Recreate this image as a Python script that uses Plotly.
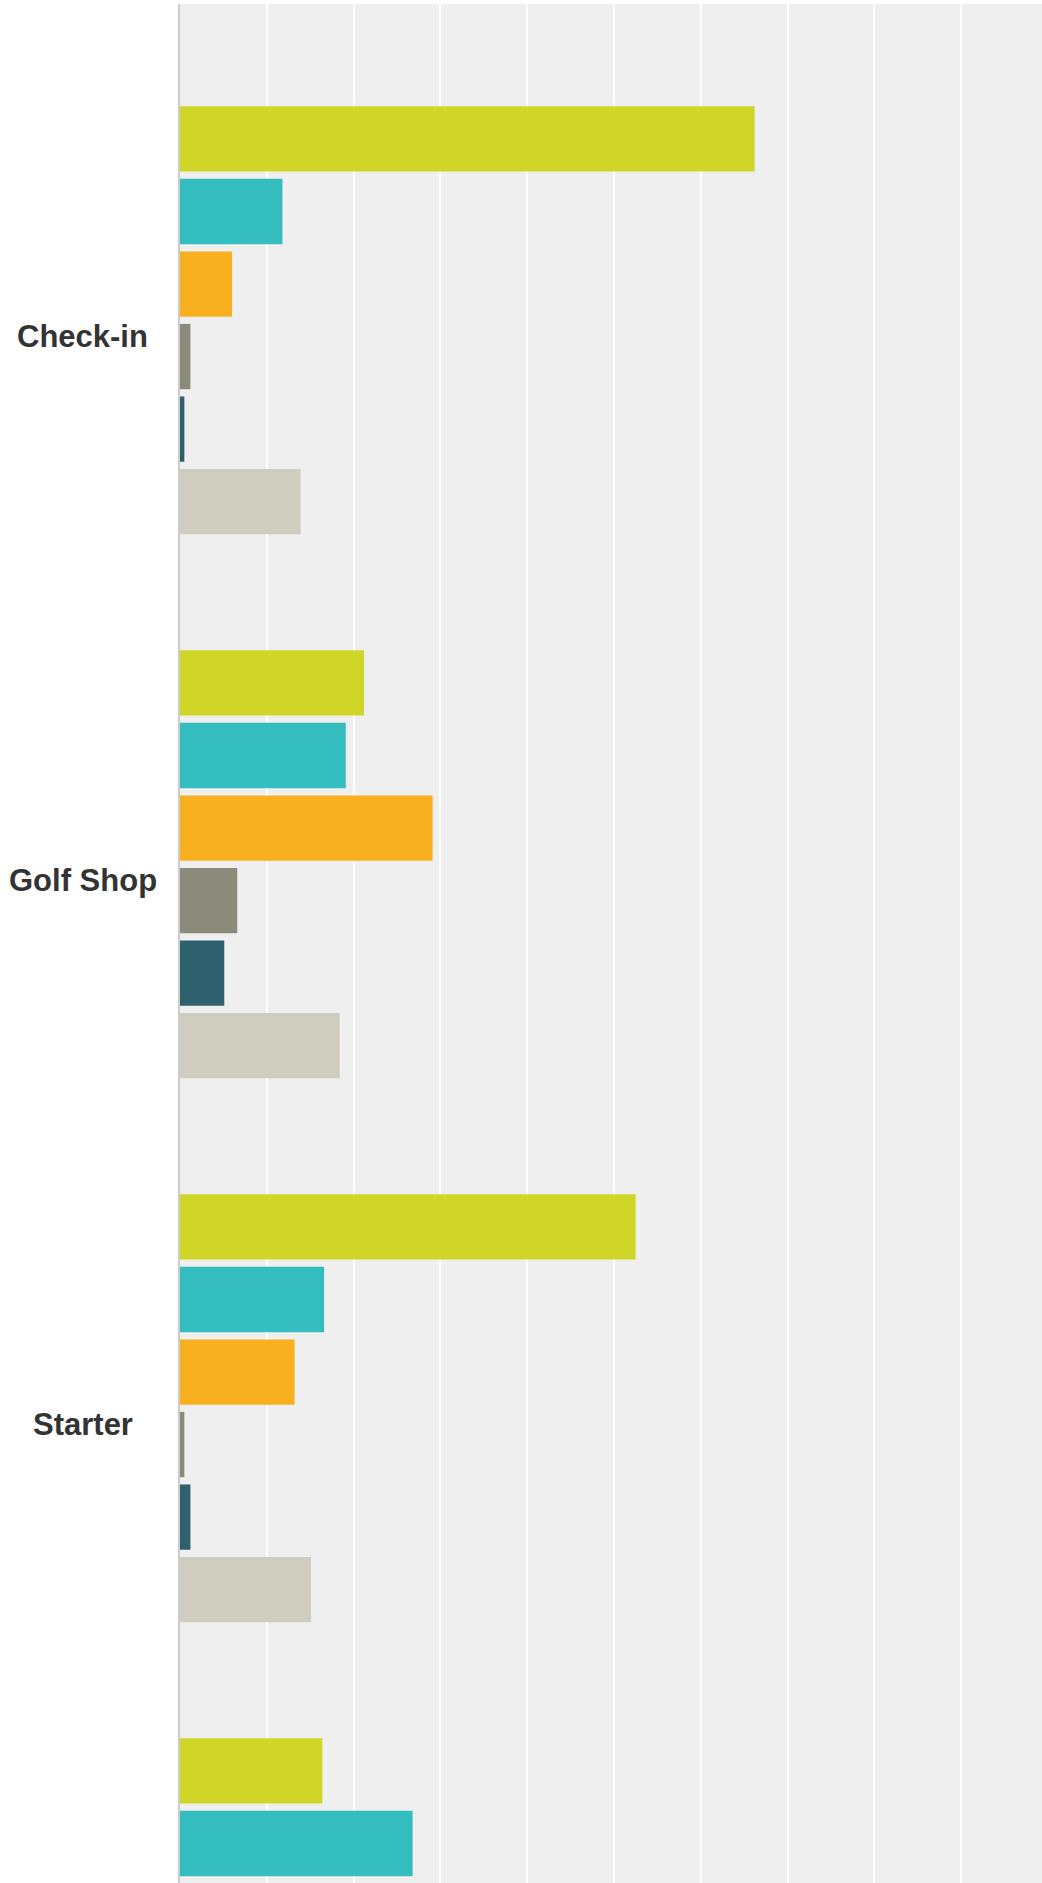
import plotly.graph_objects as go

categories = ["Check-in", "Golf Shop", "Starter", "Food & Beverage"]
series_names = ["Excellent", "Very Good", "Good", "Fair", "Poor", "N/A"]
excellent = [66.2, 21.2, 52.5, 16.4]
very_good = [11.8, 19.1, 16.6, 26.8]
good = [6.0, 29.1, 13.2, None]
fair = [1.2, 6.6, 0.5, None]
poor = [0.5, 5.1, 1.2, None]
not_applicable = [13.9, 18.4, 15.1, None]

series_values = [excellent, very_good, good, fair, poor, not_applicable]
colors = ["#CFD628", "#34BDBF", "#F7AF1F", "#8B8B7B", "#2E606E", "#CFCDBF"]

fig = go.Figure()
for name, vals, col in zip(series_names, series_values, colors):
    fig.add_trace(go.Bar(
        y=categories, x=vals, name=name, orientation="h",
        marker=dict(color=col, line=dict(width=0)),
        hoverinfo="x+name",
    ))

W, H = 1042, 1883
left, top = 180, 4
px_per_unit = 8.68
cat_pitch = 544
cat0_center = 320.3
y_top = -(cat0_center - top) / cat_pitch
y_bottom = y_top + (H - top) / cat_pitch

annotations = []
for i, c in enumerate(categories):
    annotations.append(dict(
        text="<b>%s</b>" % c, xref="paper", yref="y", x=-0.113, y=c,
        xanchor="center", yanchor="middle", yshift=-16, showarrow=False,
        font=dict(family="Liberation Sans, Arial, sans-serif", size=31, color="#333333"),
    ))

fig.update_layout(
    width=W, height=H,
    margin=dict(l=left, r=0, t=top, b=0, pad=0),
    barmode="group", bargap=0.2, bargroupgap=0.1,
    plot_bgcolor="#EFEFEF", paper_bgcolor="#FFFFFF",
    showlegend=False,
    annotations=annotations,
    xaxis=dict(range=[0, (W - left) / px_per_unit], dtick=10, tick0=0,
               showgrid=True, gridcolor="#FFFFFF", gridwidth=1.5,
               zeroline=False, showticklabels=False, ticks="", showline=False, fixedrange=True),
    yaxis=dict(range=[y_bottom, y_top], showticklabels=False, ticks="",
               showgrid=False, zeroline=False, showline=True,
               linecolor="#CCCCCC", linewidth=2, fixedrange=True),
)

fig.write_html("out.html", config={"displayModeBar": False},
               post_script="document.body.style.margin='0';")
